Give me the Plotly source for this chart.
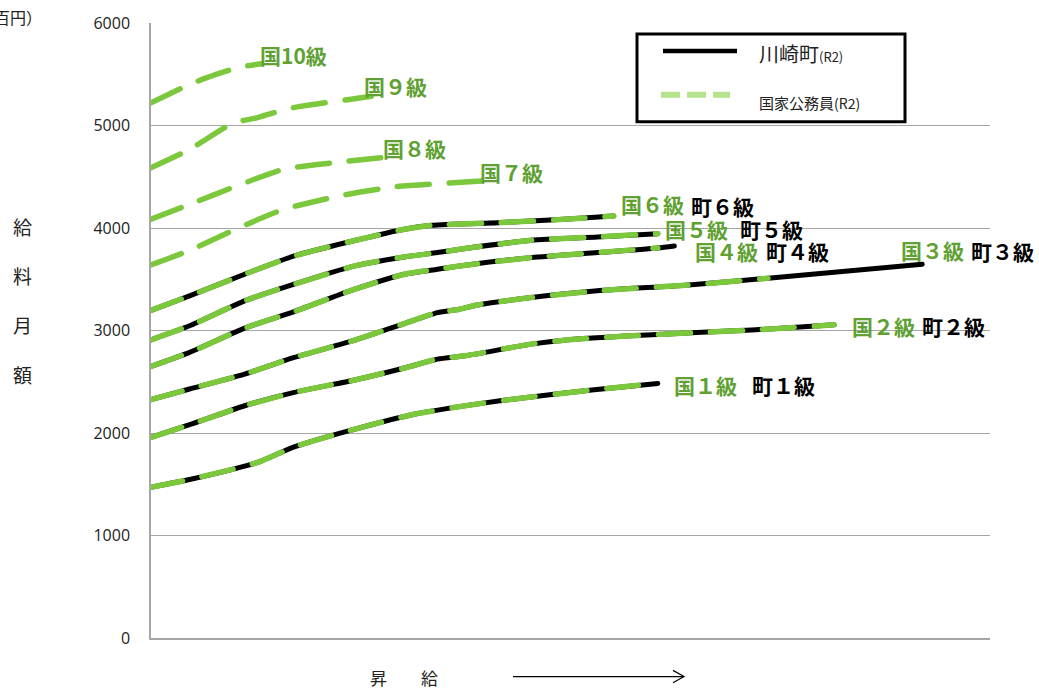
import plotly.graph_objects as go

# 国家公務員 (R2): step number (号俸) and monthly pay in hundreds of yen
kuni1_step = [1, 8, 18, 21, 27, 37, 49, 61, 67, 81, 93]
kuni1_pay = [1471, 1546, 1677, 1726, 1864, 2023, 2186, 2289, 2332, 2419, 2484]
kuni2_step = [1, 8, 18, 27, 38, 47, 53, 58, 70, 76, 88, 100, 110, 125]
kuni2_pay = [1958, 2081, 2266, 2396, 2517, 2634, 2721, 2753, 2867, 2906, 2948, 2980, 3004, 3055]
kuni3_step = [1, 8, 18, 27, 38, 47, 53, 57, 60, 70, 82, 98, 113]
kuni3_pay = [2325, 2429, 2575, 2737, 2906, 3068, 3175, 3208, 3247, 3321, 3387, 3442, 3510]
kuni4_step = [1, 8, 18, 27, 38, 47, 53, 57, 70, 82, 93]
kuni4_pay = [2649, 2786, 3023, 3185, 3403, 3549, 3598, 3630, 3711, 3760, 3805]
kuni5_step = [1, 8, 18, 27, 38, 47, 53, 58, 70, 82, 93]
kuni5_pay = [2909, 3046, 3289, 3452, 3630, 3718, 3760, 3800, 3880, 3913, 3945]
kuni6_step = [1, 8, 18, 27, 38, 47, 52, 64, 76, 85]
kuni6_pay = [3197, 3338, 3549, 3727, 3878, 3988, 4026, 4052, 4085, 4117]
kuni7_step = [1, 8, 17, 25, 36, 45, 55, 61]
kuni7_pay = [3640, 3781, 4003, 4180, 4322, 4400, 4438, 4458]
kuni8_step = [1, 8, 17, 25, 36, 45]
kuni8_pay = [4085, 4231, 4419, 4572, 4648, 4697]
kuni9_step = [1, 8, 16, 20, 26, 37, 41]
kuni9_pay = [4588, 4767, 5026, 5072, 5166, 5254, 5286]
kuni10_step = [1, 8, 11, 17, 21]
kuni10_pay = [5221, 5400, 5464, 5568, 5603]

# 川崎町 (R2): step number and monthly pay in hundreds of yen
town1_step = [1, 8, 18, 21, 27, 37, 49, 61, 67, 81, 93]
town1_pay = [1471, 1546, 1677, 1726, 1864, 2023, 2186, 2289, 2332, 2419, 2484]
town2_step = [1, 8, 18, 27, 38, 47, 53, 58, 70, 76, 88, 100, 110, 125]
town2_pay = [1958, 2081, 2266, 2396, 2517, 2634, 2721, 2753, 2867, 2906, 2948, 2980, 3004, 3055]
town3_step = [1, 8, 18, 27, 38, 47, 53, 57, 60, 70, 82, 98, 113, 141]
town3_pay = [2325, 2429, 2575, 2737, 2906, 3068, 3175, 3208, 3247, 3321, 3387, 3442, 3510, 3647]
town4_step = [1, 8, 18, 27, 38, 47, 53, 57, 70, 82, 93, 96]
town4_pay = [2649, 2786, 3023, 3185, 3403, 3549, 3598, 3630, 3711, 3760, 3805, 3825]
town5_step = [1, 8, 18, 27, 38, 47, 53, 58, 70, 82, 93]
town5_pay = [2909, 3046, 3289, 3452, 3630, 3718, 3760, 3800, 3880, 3913, 3945]
town6_step = [1, 8, 18, 27, 38, 47, 52, 64, 76, 85]
town6_pay = [3197, 3338, 3549, 3727, 3878, 3988, 4026, 4052, 4085, 4117]

y_ticks = [0, 1000, 2000, 3000, 4000, 5000, 6000]

town_series = [
    (town1_step, town1_pay), (town2_step, town2_pay), (town3_step, town3_pay),
    (town4_step, town4_pay), (town5_step, town5_pay), (town6_step, town6_pay),
]
kuni_series = [
    (kuni1_step, kuni1_pay), (kuni2_step, kuni2_pay), (kuni3_step, kuni3_pay),
    (kuni4_step, kuni4_pay), (kuni5_step, kuni5_pay), (kuni6_step, kuni6_pay),
    (kuni7_step, kuni7_pay), (kuni8_step, kuni8_pay), (kuni9_step, kuni9_pay),
    (kuni10_step, kuni10_pay),
]

GREEN = "#7CC83C"
LABEL_GREEN = "#5FA132"
JP = "Noto Sans CJK JP"

W, H = 1039, 690
ML, MR, MT, MB = 151, 49, 21, 52
PW, PH = W - ML - MR, H - MT - MB


def px(x):
    return (x - ML) / PW


def py(y):
    return (H - MB - y) / PH


fig = go.Figure()

for xs, ys in town_series:
    fig.add_trace(go.Scatter(
        x=xs, y=ys, mode="lines",
        line=dict(color="black", width=5, shape="spline", smoothing=0.6),
        hoverinfo="skip", showlegend=False,
    ))

for xs, ys in kuni_series:
    fig.add_trace(go.Scatter(
        x=xs, y=ys, mode="lines",
        line=dict(color=GREEN, width=5.5, dash="32px,20px", shape="spline", smoothing=0.6),
        hoverinfo="skip", showlegend=False,
    ))

annotations = []


def label(text, left, cy, color, size=21):
    annotations.append(dict(
        text=text, x=px(left), y=py(cy), xref="paper", yref="paper",
        xanchor="left", yanchor="middle", showarrow=False,
        font=dict(family=JP, size=size, color=color, weight="bold"),
    ))


# grade labels at the ends of the curves
label("国10級", 258, 53, LABEL_GREEN)
label("国９級", 362, 84, LABEL_GREEN)
label("国８級", 381, 146, LABEL_GREEN)
label("国７級", 478, 170, LABEL_GREEN)
label("国６級", 619, 203, LABEL_GREEN)
label("町６級", 689, 205, "black")
label("国５級", 663, 228, LABEL_GREEN)
label("町５級", 738, 228, "black")
label("国４級", 693, 250, LABEL_GREEN)
label("町４級", 764, 250, "black")
label("国３級", 899, 249, LABEL_GREEN)
label("町３級", 969, 250, "black")
label("国２級", 850, 325, LABEL_GREEN)
label("町２級", 920, 325, "black")
label("国１級", 672, 384, LABEL_GREEN)
label("町１級", 750, 384, "black")

# axis titles
for ch, cy in zip("給料月額", [225, 274, 323, 374]):
    annotations.append(dict(
        text=ch, x=px(22), y=py(cy), xref="paper", yref="paper",
        xanchor="center", yanchor="middle", showarrow=False,
        font=dict(family=JP, size=19, color="#222"),
    ))
annotations.append(dict(
    text="（百円）", x=px(44), y=py(15), xref="paper", yref="paper",
    xanchor="right", yanchor="middle", showarrow=False,
    font=dict(family=JP, size=16, color="#222"),
))
annotations.append(dict(
    text="昇　　給", x=px(404), y=py(678), xref="paper", yref="paper",
    xanchor="center", yanchor="middle", showarrow=False,
    font=dict(family=JP, size=17, color="#222"),
))

# legend text
annotations.append(dict(
    text="川崎町<span style='font-size:13px'>(R2)</span>", x=px(757), y=py(52),
    xref="paper", yref="paper", xanchor="left", yanchor="middle", showarrow=False,
    font=dict(family=JP, size=20, color="#222"),
))
annotations.append(dict(
    text="国家公務員<span style='font-size:14px'>(R2)</span>", x=px(757), y=py(101),
    xref="paper", yref="paper", xanchor="left", yanchor="middle", showarrow=False,
    font=dict(family=JP, size=15, color="#222"),
))

shapes = [
    # legend frame
    dict(type="rect", xref="paper", yref="paper",
         x0=px(637), x1=px(905), y0=py(32), y1=py(120),
         line=dict(color="black", width=3), fillcolor="white", layer="above"),
    dict(type="line", xref="paper", yref="paper",
         x0=px(663), x1=px(737), y0=py(49), y1=py(49),
         line=dict(color="black", width=4.5), layer="above"),
    dict(type="line", xref="paper", yref="paper",
         x0=px(661), x1=px(730), y0=py(93), y1=py(93),
         line=dict(color="#B5E28C", width=6, dash="19px,7px"), layer="above"),
    # increment arrow
    dict(type="line", xref="paper", yref="paper",
         x0=px(513), x1=px(684), y0=py(676.7), y1=py(676.7),
         line=dict(color="black", width=1.2)),
    dict(type="path", xref="paper", yref="paper",
         path=f"M{px(673)},{py(670.5)} L{px(684)},{py(676.7)} L{px(673)},{py(682.9)}",
         line=dict(color="black", width=1.2)),
]

fig.update_layout(
    width=W, height=H,
    margin=dict(l=ML, r=MR, t=MT, b=MB, pad=0),
    paper_bgcolor="white", plot_bgcolor="white",
    showlegend=False,
    annotations=annotations,
    shapes=shapes,
    xaxis=dict(
        range=[1, 153.3], showgrid=False, zeroline=False,
        showticklabels=False, ticks="", showline=True,
        linecolor="#A6A6A6", linewidth=1.5,
    ),
    yaxis=dict(
        range=[0, 6000], tickvals=y_ticks, ticks="",
        showgrid=True, gridcolor="#A6A6A6", gridwidth=1.2,
        zeroline=False, showline=True, linecolor="#A6A6A6", linewidth=1.5,
        tickfont=dict(family="Open Sans", size=16, color="#222"),
        ticklabelstandoff=16,
    ),
)

round_caps = (
    "document.querySelectorAll('.scatterlayer .js-line')"
    ".forEach(function(p){p.style.strokeLinecap='round';p.style.strokeLinejoin='round';});"
)
fig.write_html("out.html", post_script=round_caps)
